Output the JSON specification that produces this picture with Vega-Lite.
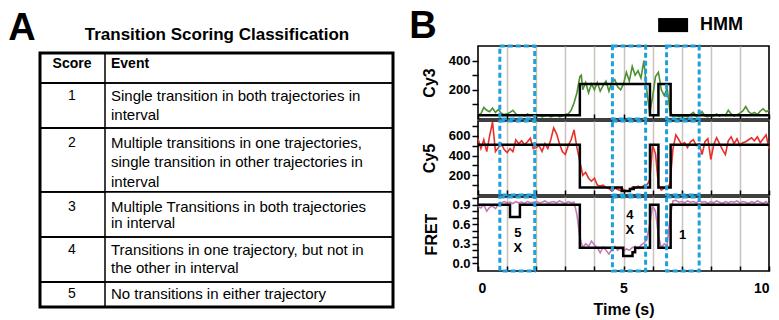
{
  "$schema": "https://vega.github.io/schema/vega-lite/v6.json",
  "padding": 0,
  "background": "white",
  "bounds": "flush",
  "spacing": 78,
  "datasets": {
    "cy3": [
      {"t":0,"v":30},{"t":0.1,"v":35},{"t":0.2,"v":80},{"t":0.3,"v":60},{"t":0.4,"v":50},{"t":0.5,"v":75},{"t":0.6,"v":45},{"t":0.7,"v":65},{"t":0.8,"v":40},{"t":0.9,"v":30},
      {"t":1.0,"v":35},{"t":1.1,"v":45},{"t":1.2,"v":60},{"t":1.3,"v":35},{"t":1.4,"v":25},{"t":1.5,"v":30},{"t":1.6,"v":20},{"t":1.7,"v":35},{"t":1.8,"v":25},{"t":1.9,"v":30},
      {"t":2.0,"v":20},{"t":2.1,"v":25},{"t":2.2,"v":15},{"t":2.3,"v":20},{"t":2.4,"v":25},{"t":2.5,"v":15},{"t":2.6,"v":20},{"t":2.7,"v":25},{"t":2.8,"v":15},{"t":2.9,"v":20},
      {"t":3.0,"v":30},{"t":3.1,"v":35},{"t":3.2,"v":60},{"t":3.3,"v":110},{"t":3.4,"v":180},{"t":3.5,"v":290},{"t":3.55,"v":300},{"t":3.6,"v":200},{"t":3.7,"v":250},{"t":3.8,"v":180},{"t":3.9,"v":240},
      {"t":4.0,"v":200},{"t":4.1,"v":250},{"t":4.2,"v":190},{"t":4.3,"v":230},{"t":4.4,"v":260},{"t":4.5,"v":190},{"t":4.6,"v":250},{"t":4.7,"v":270},{"t":4.8,"v":220},{"t":4.9,"v":200},
      {"t":5.0,"v":240},{"t":5.1,"v":320},{"t":5.2,"v":260},{"t":5.3,"v":360},{"t":5.4,"v":300},{"t":5.5,"v":330},{"t":5.6,"v":280},{"t":5.7,"v":400},{"t":5.8,"v":200},{"t":5.9,"v":40},
      {"t":6.0,"v":150},{"t":6.1,"v":290},{"t":6.2,"v":320},{"t":6.3,"v":200},{"t":6.4,"v":160},{"t":6.5,"v":210},{"t":6.6,"v":50},{"t":6.7,"v":20},{"t":6.8,"v":25},{"t":6.9,"v":15},
      {"t":7.0,"v":25},{"t":7.1,"v":20},{"t":7.2,"v":15},{"t":7.3,"v":30},{"t":7.4,"v":45},{"t":7.5,"v":20},{"t":7.6,"v":25},{"t":7.7,"v":50},{"t":7.8,"v":20},{"t":7.9,"v":15},
      {"t":8.0,"v":25},{"t":8.1,"v":20},{"t":8.2,"v":35},{"t":8.3,"v":20},{"t":8.4,"v":30},{"t":8.5,"v":25},{"t":8.6,"v":60},{"t":8.7,"v":35},{"t":8.8,"v":20},{"t":8.9,"v":30},
      {"t":9.0,"v":40},{"t":9.1,"v":55},{"t":9.2,"v":85},{"t":9.3,"v":50},{"t":9.4,"v":35},{"t":9.5,"v":45},{"t":9.6,"v":30},{"t":9.7,"v":55},{"t":9.8,"v":70},{"t":9.9,"v":50},{"t":10.0,"v":60}
    ],
    "cy5": [
      {"t":0,"v":570},{"t":0.1,"v":470},{"t":0.2,"v":560},{"t":0.3,"v":440},{"t":0.4,"v":600},{"t":0.5,"v":740},{"t":0.6,"v":440},{"t":0.7,"v":480},{"t":0.8,"v":520},{"t":0.9,"v":460},
      {"t":1.0,"v":430},{"t":1.1,"v":470},{"t":1.2,"v":440},{"t":1.3,"v":560},{"t":1.4,"v":520},{"t":1.5,"v":550},{"t":1.6,"v":510},{"t":1.7,"v":540},{"t":1.8,"v":575},{"t":1.9,"v":470},
      {"t":2.0,"v":480},{"t":2.1,"v":500},{"t":2.2,"v":440},{"t":2.3,"v":520},{"t":2.4,"v":470},{"t":2.5,"v":560},{"t":2.6,"v":680},{"t":2.7,"v":620},{"t":2.8,"v":520},{"t":2.9,"v":440},
      {"t":3.0,"v":410},{"t":3.1,"v":500},{"t":3.2,"v":560},{"t":3.3,"v":660},{"t":3.4,"v":480},{"t":3.5,"v":340},{"t":3.6,"v":200},{"t":3.7,"v":230},{"t":3.8,"v":170},{"t":3.9,"v":140},
      {"t":4.0,"v":170},{"t":4.1,"v":100},{"t":4.2,"v":90},{"t":4.3,"v":100},{"t":4.4,"v":75},{"t":4.5,"v":65},{"t":4.6,"v":40},{"t":4.7,"v":70},{"t":4.8,"v":55},{"t":4.9,"v":45},
      {"t":5.0,"v":60},{"t":5.1,"v":40},{"t":5.2,"v":45},{"t":5.3,"v":80},{"t":5.4,"v":70},{"t":5.5,"v":90},{"t":5.6,"v":75},{"t":5.7,"v":95},{"t":5.8,"v":100},{"t":5.9,"v":150},
      {"t":6.0,"v":500},{"t":6.1,"v":420},{"t":6.2,"v":100},{"t":6.3,"v":50},{"t":6.4,"v":70},{"t":6.5,"v":60},{"t":6.6,"v":120},{"t":6.7,"v":470},{"t":6.8,"v":610},{"t":6.9,"v":560},
      {"t":7.0,"v":510},{"t":7.1,"v":530},{"t":7.2,"v":480},{"t":7.3,"v":540},{"t":7.4,"v":560},{"t":7.5,"v":500},{"t":7.6,"v":520},{"t":7.7,"v":410},{"t":7.8,"v":540},{"t":7.9,"v":570},
      {"t":8.0,"v":360},{"t":8.1,"v":510},{"t":8.2,"v":580},{"t":8.3,"v":520},{"t":8.4,"v":460},{"t":8.5,"v":410},{"t":8.6,"v":550},{"t":8.7,"v":590},{"t":8.8,"v":520},{"t":8.9,"v":570},
      {"t":9.0,"v":500},{"t":9.1,"v":530},{"t":9.2,"v":540},{"t":9.3,"v":560},{"t":9.4,"v":580},{"t":9.5,"v":550},{"t":9.6,"v":590},{"t":9.7,"v":530},{"t":9.8,"v":570},{"t":9.9,"v":610},{"t":10.0,"v":470}
    ],
    "fret": [
      {"t":0,"v":0.88},{"t":0.1,"v":0.85},{"t":0.2,"v":0.9},{"t":0.3,"v":0.8},{"t":0.4,"v":0.86},{"t":0.5,"v":0.88},{"t":0.6,"v":0.84},{"t":0.7,"v":0.9},{"t":0.8,"v":0.93},{"t":0.9,"v":0.95},
      {"t":1.0,"v":0.93},{"t":1.1,"v":0.94},{"t":1.2,"v":0.92},{"t":1.3,"v":0.95},{"t":1.4,"v":0.93},{"t":1.5,"v":0.94},{"t":1.6,"v":0.92},{"t":1.7,"v":0.95},{"t":1.8,"v":0.93},{"t":1.9,"v":0.94},
      {"t":2.0,"v":0.95},{"t":2.1,"v":0.93},{"t":2.2,"v":0.94},{"t":2.3,"v":0.96},{"t":2.4,"v":0.93},{"t":2.5,"v":0.94},{"t":2.6,"v":0.95},{"t":2.7,"v":0.93},{"t":2.8,"v":0.96},{"t":2.9,"v":0.94},
      {"t":3.0,"v":0.92},{"t":3.1,"v":0.95},{"t":3.2,"v":0.93},{"t":3.3,"v":0.94},{"t":3.4,"v":0.75},{"t":3.5,"v":0.4},{"t":3.6,"v":0.24},{"t":3.7,"v":0.3},{"t":3.8,"v":0.26},{"t":3.9,"v":0.34},
      {"t":4.0,"v":0.28},{"t":4.1,"v":0.24},{"t":4.2,"v":0.16},{"t":4.3,"v":0.25},{"t":4.4,"v":0.2},{"t":4.5,"v":0.14},{"t":4.6,"v":0.22},{"t":4.7,"v":0.26},{"t":4.8,"v":0.2},{"t":4.9,"v":0.24},
      {"t":5.0,"v":0.19},{"t":5.1,"v":0.22},{"t":5.2,"v":0.2},{"t":5.3,"v":0.24},{"t":5.4,"v":0.26},{"t":5.5,"v":0.22},{"t":5.6,"v":0.28},{"t":5.7,"v":0.31},{"t":5.8,"v":0.36},{"t":5.9,"v":0.6},
      {"t":6.0,"v":0.88},{"t":6.1,"v":0.8},{"t":6.2,"v":0.42},{"t":6.3,"v":0.24},{"t":6.4,"v":0.3},{"t":6.5,"v":0.27},{"t":6.6,"v":0.7},{"t":6.7,"v":0.96},{"t":6.8,"v":0.97},{"t":6.9,"v":0.94},
      {"t":7.0,"v":0.95},{"t":7.1,"v":0.93},{"t":7.2,"v":0.96},{"t":7.3,"v":0.94},{"t":7.4,"v":0.95},{"t":7.5,"v":0.93},{"t":7.6,"v":0.96},{"t":7.7,"v":0.94},{"t":7.8,"v":0.95},{"t":7.9,"v":0.92},
      {"t":8.0,"v":0.95},{"t":8.1,"v":0.93},{"t":8.2,"v":0.96},{"t":8.3,"v":0.94},{"t":8.4,"v":0.92},{"t":8.5,"v":0.95},{"t":8.6,"v":0.93},{"t":8.7,"v":0.95},{"t":8.8,"v":0.94},{"t":8.9,"v":0.96},
      {"t":9.0,"v":0.93},{"t":9.1,"v":0.95},{"t":9.2,"v":0.94},{"t":9.3,"v":0.92},{"t":9.4,"v":0.95},{"t":9.5,"v":0.93},{"t":9.6,"v":0.96},{"t":9.7,"v":0.94},{"t":9.8,"v":0.92},{"t":9.9,"v":0.95},{"t":10.0,"v":0.9}
    ],
    "cy3hmm": [{"t":0,"v":25},{"t":3.5,"v":240},{"t":5.91,"v":25},{"t":6.2,"v":240},{"t":6.62,"v":25},{"t":10,"v":25}],
    "cy5hmm": [{"t":0,"v":510},{"t":3.5,"v":75},{"t":4.94,"v":40},{"t":5.22,"v":60},{"t":5.35,"v":75},{"t":5.91,"v":510},{"t":6.2,"v":75},{"t":6.62,"v":510},{"t":10,"v":510}],
    "frethmm": [{"t":0,"v":0.9},{"t":1.1,"v":0.71},{"t":1.44,"v":0.9},{"t":3.5,"v":0.24},{"t":4.99,"v":0.11},{"t":5.31,"v":0.17},{"t":5.4,"v":0.24},{"t":5.91,"v":0.9},{"t":6.2,"v":0.24},{"t":6.62,"v":0.9},{"t":10,"v":0.9}],
    "boxes": [{"t":0.75,"t2":1.95},{"t":4.62,"t2":5.76},{"t":6.48,"t2":7.6}],
    "notes": [{"t":1.37,"v":0.46,"label":"5"},{"t":1.37,"v":0.23,"label":"X"},{"t":5.22,"v":0.74,"label":"4"},{"t":5.22,"v":0.51,"label":"X"},{"t":7.03,"v":0.44,"label":"1"}],
    "rows": [{"top":-0.53,"bottom":0.91},{"top":0.91,"bottom":3.06},{"top":3.06,"bottom":6.12},{"top":6.12,"bottom":8.28},{"top":8.28,"bottom":10.43},{"top":10.43,"bottom":11.63}],
    "lines": [
      {"slot":1.53,"num":"1","text":"Single transition in both trajectories in"},
      {"slot":2.44,"num":"","text":"interval"},
      {"slot":3.78,"num":"2","text":"Multiple transitions in one trajectories,"},
      {"slot":4.69,"num":"","text":"single transition in other trajectories in"},
      {"slot":5.65,"num":"","text":"interval"},
      {"slot":6.84,"num":"3","text":"Multiple Transitions in both trajectories"},
      {"slot":7.61,"num":"","text":" in  interval"},
      {"slot":8.9,"num":"4","text":"Transitions in one trajectory, but not in"},
      {"slot":9.76,"num":"","text":"the other in interval"},
      {"slot":11.0,"num":"5","text":"No transitions in either trajectory"}
    ]
  },
  "config": {
    "font": "Liberation Sans",
    "view": {"stroke": null},
    "axisY": {"labelFontSize": 13, "labelFontWeight": "bold", "labelColor": "black", "tickSize": 6, "tickWidth": 1.5, "tickColor": "black", "domain": false, "grid": false, "titleFontSize": 16, "titleFontWeight": "bold", "titleColor": "black", "labelPadding": 2},
    "axisX": {"grid": true, "gridColor": "#cbc3bb", "gridWidth": 1.5, "tickSize": -5, "tickWidth": 1.5, "tickColor": "black", "domain": false, "labelFontSize": 14, "labelFontWeight": "bold", "labelColor": "black", "titleFontSize": 16, "titleFontWeight": "bold", "titleColor": "black", "labelPadding": 15}
  },
  "hconcat": [
    {
      "width": 400,
      "height": 320,
      "view": {"stroke": null},
      "layer": [
        {
          "data": {"name": "rows"},
          "mark": {"type": "rect", "filled": false, "color": "black", "strokeWidth": 1.5},
          "encoding": {
            "x": {"datum": 10, "type": "quantitative", "scale": {"domain": [0, 100], "nice": false, "zero": false}, "axis": null},
            "x2": {"datum": 98.25},
            "y": {"field": "top", "type": "quantitative", "scale": {"domain": [-3.06, 12.25], "nice": false, "zero": false, "reverse": true}, "axis": null},
            "y2": {"field": "bottom"}
          }
        },
        {
          "data": {"name": "rows"},
          "mark": {"type": "rect", "filled": false, "color": "black", "strokeWidth": 1.5},
          "encoding": {
            "x": {"datum": 10, "type": "quantitative", "axis": null},
            "x2": {"datum": 26.25},
            "y": {"field": "top", "type": "quantitative", "axis": null},
            "y2": {"field": "bottom"}
          }
        },
        {
          "data": {"values": [{}]},
          "mark": {"type": "rect", "filled": false, "color": "black", "strokeWidth": 3},
          "encoding": {
            "x": {"datum": 10, "type": "quantitative", "axis": null},
            "x2": {"datum": 98.25},
            "y": {"datum": -0.53, "type": "quantitative", "axis": null},
            "y2": {"datum": 11.63}
          }
        },
        {
          "data": {"values": [{}]},
          "mark": {"type": "text", "text": "A", "fontSize": 38, "fontWeight": "bold", "align": "center", "baseline": "middle"},
          "encoding": {
            "x": {"datum": 5.5, "type": "quantitative", "axis": null},
            "y": {"datum": -1.67, "type": "quantitative", "axis": null}
          }
        },
        {
          "data": {"values": [{}]},
          "mark": {"type": "text", "text": "Transition Scoring Classification", "fontSize": 17, "fontWeight": "bold", "align": "center", "baseline": "middle"},
          "encoding": {
            "x": {"datum": 54.25, "type": "quantitative", "axis": null},
            "y": {"datum": -1.39, "type": "quantitative", "axis": null}
          }
        },
        {
          "data": {"values": [{}]},
          "mark": {"type": "text", "text": "Score", "fontSize": 14, "fontWeight": "bold", "align": "center", "baseline": "middle"},
          "encoding": {
            "x": {"datum": 18, "type": "quantitative", "axis": null},
            "y": {"datum": 0, "type": "quantitative", "axis": null}
          }
        },
        {
          "data": {"values": [{}]},
          "mark": {"type": "text", "text": "Event", "fontSize": 14, "fontWeight": "bold", "align": "left", "baseline": "middle"},
          "encoding": {
            "x": {"datum": 27.75, "type": "quantitative", "axis": null},
            "y": {"datum": 0, "type": "quantitative", "axis": null}
          }
        },
        {
          "data": {"name": "lines"},
          "mark": {"type": "text", "fontSize": 14, "align": "center", "baseline": "middle", "color": "black"},
          "encoding": {
            "x": {"datum": 18, "type": "quantitative", "axis": null},
            "y": {"field": "slot", "type": "quantitative", "axis": null},
            "text": {"field": "num"}
          }
        },
        {
          "data": {"name": "lines"},
          "mark": {"type": "text", "fontSize": 15, "align": "left", "baseline": "middle", "color": "black"},
          "encoding": {
            "x": {"datum": 27.75, "type": "quantitative", "axis": null},
            "y": {"field": "slot", "type": "quantitative", "axis": null},
            "text": {"field": "text"}
          }
        }
      ]
    },
    {
      "bounds": "flush",
      "spacing": 2,
      "vconcat": [
        {
          "width": 291,
          "height": 44,
          "view": {"stroke": null},
          "data": {"values": [{}]},
          "layer": [
            {
              "mark": {"type": "text", "text": "B", "fontSize": 38, "fontWeight": "bold", "align": "center", "baseline": "middle"},
              "encoding": {
                "x": {"datum": -1.89, "type": "quantitative", "scale": {"domain": [0, 10], "nice": false, "zero": false}, "axis": null},
                "y": {"datum": 0.39, "type": "quantitative", "scale": {"domain": [0, 1], "nice": false, "zero": false}, "axis": null}
              }
            },
            {
              "mark": {"type": "rect", "color": "black"},
              "encoding": {
                "x": {"datum": 6.19, "type": "quantitative", "axis": null},
                "x2": {"datum": 7.22},
                "y": {"datum": 0.59, "type": "quantitative", "axis": null},
                "y2": {"datum": 0.27}
              }
            },
            {
              "mark": {"type": "text", "text": "HMM", "fontSize": 18, "fontWeight": "bold", "align": "left", "baseline": "middle"},
              "encoding": {
                "x": {"datum": 7.63, "type": "quantitative", "axis": null},
                "y": {"datum": 0.43, "type": "quantitative", "axis": null}
              }
            }
          ]
        },
        {
          "width": 291,
          "height": 73,
          "view": {"stroke": "black", "strokeWidth": 1.6},
          "encoding": {
            "x": {"field": "t", "type": "quantitative", "scale": {"domain": [0, 10], "nice": false, "zero": false},
                  "axis": {"values": [0,1,2,3,4,5,6,7,8,9,10], "labels": false, "title": null,
                           "gridColor": {"condition": {"test": "datum.value == 0 || datum.value == 10", "value": "transparent"}, "value": "#cbc3bb"}}}
          },
          "layer": [
            {"data": {"name": "cy3"}, "mark": {"type": "line", "color": "#4e8f32", "strokeWidth": 1.6},
             "encoding": {"y": {"field": "v", "type": "quantitative", "scale": {"domain": [0, 500], "nice": false, "zero": false},
                  "axis": {"values": [100,200,300,400], "labelExpr": "datum.value % 200 == 0 ? datum.label : ''", "title": "Cy3", "titlePadding": 11}}}},
            {"data": {"name": "cy3hmm"}, "mark": {"type": "line", "color": "black", "strokeWidth": 2.5, "interpolate": "step-after"},
             "encoding": {"y": {"field": "v", "type": "quantitative", "scale": {"domain": [0, 500], "nice": false, "zero": false},
                  "axis": {"values": [100,200,300,400], "labelExpr": "datum.value % 200 == 0 ? datum.label : ''", "title": "Cy3", "titlePadding": 11}}}},
            {"data": {"name": "boxes"}, "mark": {"type": "rect", "filled": false, "color": "#1ea0dc", "strokeWidth": 3, "strokeDash": [5, 3]},
             "encoding": {"x2": {"field": "t2"},
                  "y": {"datum": 0, "type": "quantitative", "scale": {"domain": [0, 500], "nice": false, "zero": false},
                        "axis": {"values": [100,200,300,400], "labelExpr": "datum.value % 200 == 0 ? datum.label : ''", "title": "Cy3", "titlePadding": 11}},
                  "y2": {"datum": 500}}}
          ]
        },
        {
          "width": 291,
          "height": 74,
          "view": {"stroke": "black", "strokeWidth": 1.6},
          "encoding": {
            "x": {"field": "t", "type": "quantitative", "scale": {"domain": [0, 10], "nice": false, "zero": false},
                  "axis": {"values": [0,1,2,3,4,5,6,7,8,9,10], "labels": false, "title": null,
                           "gridColor": {"condition": {"test": "datum.value == 0 || datum.value == 10", "value": "transparent"}, "value": "#cbc3bb"}}}
          },
          "layer": [
            {"data": {"name": "cy5"}, "mark": {"type": "line", "color": "#e8302a", "strokeWidth": 1.6},
             "encoding": {"y": {"field": "v", "type": "quantitative", "scale": {"domain": [0, 750], "nice": false, "zero": false},
                  "axis": {"values": [100,200,300,400,500,600,700], "labelExpr": "datum.value % 200 == 0 ? datum.label : ''", "title": "Cy5", "titlePadding": 11}}}},
            {"data": {"name": "cy5hmm"}, "mark": {"type": "line", "color": "black", "strokeWidth": 2.5, "interpolate": "step-after"},
             "encoding": {"y": {"field": "v", "type": "quantitative", "scale": {"domain": [0, 750], "nice": false, "zero": false},
                  "axis": {"values": [100,200,300,400,500,600,700], "labelExpr": "datum.value % 200 == 0 ? datum.label : ''", "title": "Cy5", "titlePadding": 11}}}},
            {"data": {"name": "boxes"}, "mark": {"type": "rect", "filled": false, "color": "#1ea0dc", "strokeWidth": 3, "strokeDash": [5, 3]},
             "encoding": {"x2": {"field": "t2"},
                  "y": {"datum": 0, "type": "quantitative", "scale": {"domain": [0, 750], "nice": false, "zero": false},
                        "axis": {"values": [100,200,300,400,500,600,700], "labelExpr": "datum.value % 200 == 0 ? datum.label : ''", "title": "Cy5", "titlePadding": 11}},
                  "y2": {"datum": 750}}}
          ]
        },
        {
          "width": 291,
          "height": 74,
          "view": {"stroke": "black", "strokeWidth": 1.6},
          "encoding": {
            "x": {"field": "t", "type": "quantitative", "scale": {"domain": [0, 10], "nice": false, "zero": false},
                  "axis": {"values": [0,1,2,3,4,5,6,7,8,9,10], "labelExpr": "datum.value % 5 == 0 ? datum.label : ''", "title": "Time (s)", "titlePadding": 6,
                           "gridColor": {"condition": {"test": "datum.value == 0 || datum.value == 10", "value": "transparent"}, "value": "#cbc3bb"}}}
          },
          "layer": [
            {"data": {"name": "fret"}, "mark": {"type": "line", "color": "#c47ab5", "strokeWidth": 1.6},
             "encoding": {"y": {"field": "v", "type": "quantitative", "scale": {"domain": [-0.12, 1.02], "nice": false, "zero": false},
                  "axis": {"values": [0,0.1,0.2,0.3,0.4,0.5,0.6,0.7,0.8,0.9,1.0], "format": ".1f", "labelExpr": "round(datum.value * 10) % 3 == 0 ? datum.label : ''", "title": "FRET", "titlePadding": 12}}}},
            {"data": {"name": "frethmm"}, "mark": {"type": "line", "color": "black", "strokeWidth": 2.5, "interpolate": "step-after"},
             "encoding": {"y": {"field": "v", "type": "quantitative", "scale": {"domain": [-0.12, 1.02], "nice": false, "zero": false},
                  "axis": {"values": [0,0.1,0.2,0.3,0.4,0.5,0.6,0.7,0.8,0.9,1.0], "format": ".1f", "labelExpr": "round(datum.value * 10) % 3 == 0 ? datum.label : ''", "title": "FRET", "titlePadding": 12}}}},
            {"data": {"name": "notes"}, "mark": {"type": "text", "fontSize": 13, "fontWeight": "bold", "align": "center", "baseline": "middle", "color": "black"},
             "encoding": {"text": {"field": "label"},
                  "y": {"field": "v", "type": "quantitative", "scale": {"domain": [-0.12, 1.02], "nice": false, "zero": false},
                  "axis": {"values": [0,0.1,0.2,0.3,0.4,0.5,0.6,0.7,0.8,0.9,1.0], "format": ".1f", "labelExpr": "round(datum.value * 10) % 3 == 0 ? datum.label : ''", "title": "FRET", "titlePadding": 12}}}},
            {"data": {"name": "boxes"}, "mark": {"type": "rect", "filled": false, "color": "#1ea0dc", "strokeWidth": 3, "strokeDash": [5, 3]},
             "encoding": {"x2": {"field": "t2"},
                  "y": {"datum": -0.12, "type": "quantitative", "scale": {"domain": [-0.12, 1.02], "nice": false, "zero": false},
                        "axis": {"values": [0,0.1,0.2,0.3,0.4,0.5,0.6,0.7,0.8,0.9,1.0], "format": ".1f", "labelExpr": "round(datum.value * 10) % 3 == 0 ? datum.label : ''", "title": "FRET", "titlePadding": 12}},
                  "y2": {"datum": 1.02}}}
          ]
        }
      ]
    }
  ]
}
